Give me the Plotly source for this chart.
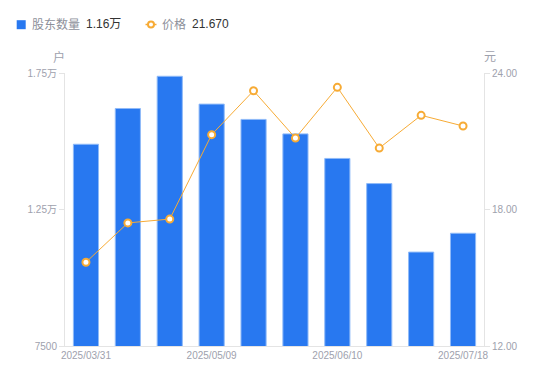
import plotly.graph_objects as go

dates = ["2025/03/31", "2025/04/10", "2025/04/30", "2025/05/09", "2025/05/20",
         "2025/05/30", "2025/06/10", "2025/06/20", "2025/06/30", "2025/07/18"]
holders = [14890, 16200, 17380, 16360, 15800, 15270, 14370, 13450, 10940, 11630]
prices = [15.68, 17.41, 17.58, 21.29, 23.22, 21.14, 23.37, 20.70, 22.14, 21.67]

x_tickvals = ["2025/03/31", "2025/05/09", "2025/06/10", "2025/07/18"]
left_tickvals = [7500, 12500, 17500]
left_ticktext = ["7500", "1.25万", "1.75万"]
right_tickvals = [12, 18, 24]
right_ticktext = ["12.00", "18.00", "24.00"]

legend_names = ["股东数量", "价格"]
legend_values = ["1.16万", "21.670"]

FONT = "Liberation Sans, Arial, Noto Sans CJK SC, sans-serif"
TICK_COLOR = "#9ea1ad"
LEG_COLOR = "#8d909a"
AXIS_COLOR = "#e4e4e4"
BLUE = "#2878f0"
ORANGE = "#f7ab35"

W, H = 550, 381
ML, MR, MT, MB = 65, 66, 73, 35
PW, PH = W - ML - MR, H - MT - MB


def px(x):
    return (x - ML) / PW


def py(y):
    return (H - MB - y) / PH


fig = go.Figure()
fig.add_trace(go.Bar(
    x=dates, y=holders, name=legend_names[0],
    marker=dict(color=BLUE, line=dict(color="#8fbaf8", width=1)),
    yaxis="y", hoverinfo="skip",
))
fig.add_trace(go.Scatter(
    x=dates, y=prices, mode="lines+markers", name=legend_names[1],
    line=dict(color=ORANGE, width=1),
    marker=dict(symbol="circle", size=7, color="white", line=dict(color=ORANGE, width=2)),
    yaxis="y2", hoverinfo="skip",
))

LY = 24.5
annotations = [
    dict(text="户", xref="paper", yref="paper", x=px(59), y=py(57),
         xanchor="center", yanchor="middle", showarrow=False,
         font=dict(size=12, color=TICK_COLOR)),
    dict(text="元", xref="paper", yref="paper", x=px(490), y=py(57),
         xanchor="center", yanchor="middle", showarrow=False,
         font=dict(size=12, color=TICK_COLOR)),
]
for xs, txt, col in [(30, legend_names[0], LEG_COLOR), (84, legend_values[0], "#333333"),
                     (160, legend_names[1], LEG_COLOR), (190, legend_values[1], "#333333")]:
    annotations.append(dict(text=txt, xref="paper", yref="paper", x=px(xs), y=py(LY),
                            xanchor="left", yanchor="middle", showarrow=False,
                            font=dict(size=12, color=col)))

shapes = [
    dict(type="rect", xref="paper", yref="paper", x0=px(16.7), x1=px(25.7),
         y0=py(29.2), y1=py(20.2), fillcolor=BLUE, line=dict(width=0)),
    dict(type="line", xref="paper", yref="paper", x0=px(145.5), x1=px(156.5),
         y0=py(LY), y1=py(LY), line=dict(color=ORANGE, width=1.5)),
    dict(type="circle", xref="paper", yref="paper", x0=px(148), x1=px(154),
         y0=py(LY + 3), y1=py(LY - 3), fillcolor="white", line=dict(color=ORANGE, width=2)),
]

fig.update_layout(
    width=W, height=H,
    margin=dict(l=ML, r=MR, t=MT, b=MB, autoexpand=False),
    paper_bgcolor="white", plot_bgcolor="white",
    font=dict(family=FONT, size=10, color=TICK_COLOR),
    bargap=0.4,
    showlegend=False,
    xaxis=dict(
        type="category", tickmode="array", tickvals=x_tickvals,
        range=[-0.5, len(dates) - 0.5], autorange=False,
        showgrid=False, zeroline=False,
        showline=True, linecolor=AXIS_COLOR, linewidth=1,
        ticks="", tickfont=dict(size=10, color=TICK_COLOR),
        automargin=False,
    ),
    yaxis=dict(
        range=[7500, 17500], tickmode="array",
        tickvals=left_tickvals, ticktext=left_ticktext,
        showgrid=False, zeroline=False,
        showline=True, linecolor=AXIS_COLOR, linewidth=1,
        ticks="outside", ticklen=5, tickcolor=AXIS_COLOR,
        tickfont=dict(size=10, color=TICK_COLOR), automargin=False,
    ),
    yaxis2=dict(
        range=[12, 24], overlaying="y", side="right", tickmode="array",
        tickvals=right_tickvals, ticktext=right_ticktext,
        showgrid=False, zeroline=False,
        showline=True, linecolor=AXIS_COLOR, linewidth=1,
        ticks="outside", ticklen=5, tickcolor=AXIS_COLOR,
        tickfont=dict(size=10, color=TICK_COLOR), automargin=False,
    ),
    annotations=annotations,
    shapes=shapes,
)

fig.write_html("out.html", config={"displayModeBar": False},
               post_script="document.body.style.margin='0';")
